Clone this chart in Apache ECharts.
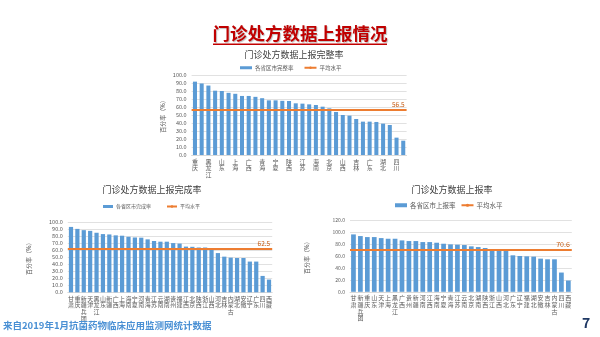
<!DOCTYPE html>
<html><head><meta charset="utf-8">
<script src="https://cdn.jsdelivr.net/npm/echarts@6/dist/echarts.min.js"></script>
<style>html,body{margin:0;padding:0;background:#fff}#c{width:600px;height:337px}</style>
</head><body><div id="c"></div>
<script>
// ---- data ----
const topCats = ['重庆','甘肃','黑龙江','新疆兵团','山东','天津','上海','新疆','广西','贵州','青海','河南','宁夏','云南','陕西','福建','江苏','江西','海南','浙江','北京','河北','山西','湖南','吉林','内蒙古','广东','安徽','湖北','辽宁','四川','西藏'];
const topValues = [91.7,89.4,86.8,80.4,80.0,77.7,76.5,73.8,73.8,72.7,71.0,68.3,68.3,67.7,67.5,64.6,64.2,63.3,62.5,60.4,58.3,53.8,50.0,49.2,45.0,41.7,41.7,41.3,39.2,37.5,21.7,17.9];
const topAvg = 56.5;

const leftCats = ['甘肃','重庆','新疆兵团','天津','黑龙江','山东','新疆','广西','上海','海南','宁夏','河南','青海','江苏','云南','湖南','贵州','福建','江西','北京','陕西','浙江','山西','河北','吉林','内蒙古','湖北','安徽','辽宁','广东','四川','西藏'];
const leftValues = [93.0,90.2,88.4,87.4,84.7,82.8,82.3,81.0,80.5,79.0,78.0,77.7,75.3,73.0,72.0,72.0,70.0,69.3,65.0,64.7,63.7,63.7,61.4,55.8,50.7,49.3,48.8,48.8,43.7,43.7,23.3,18.1];
const leftAvg = 62.5;

const rightCats = ['甘肃','新疆兵团','重庆','山东','天津','上海','黑龙江','广西','贵州','新疆','河南','江西','海南','宁夏','青海','江苏','云南','北京','湖南','陕西','浙江','山西','河北','广东','辽宁','福建','湖北','安徽','吉林','内蒙古','四川','西藏'];
const rightValues = [96.6,93.8,92.1,92.1,90.4,89.3,89.3,86.5,85.4,85.4,83.7,83.7,82.6,80.9,79.8,79.3,78.7,76.5,75.3,73.7,69.8,69.8,68.7,61.4,60.3,59.7,59.2,55.8,54.7,54.7,32.4,19.0];
const rightAvg = 70.6;

const topSeriesName = '各省区市完整率';
const leftSeriesName = '各省区市完成率';
const rightSeriesName = '各省区市上报率';
const avgName = '平均水平';

// ---- styling ----
const FONT = '"Noto Sans CJK SC", "Noto Sans", sans-serif';
const BLUE = '#5B9BD5', ORANGE = '#ED7D31', GRID = '#D9D9D9', TXT = '#595959';
const vert = s => s.split('').join('\n');

function xAxis(cats, gi, interval) {
  return {type:'category', gridIndex:gi, data:cats,
    axisLine:{lineStyle:{color:GRID}}, axisTick:{show:false},
    axisLabel:{interval:interval, formatter:vert, fontSize:6, lineHeight:6.6, color:TXT, fontFamily:FONT, margin:3}};
}
function yAxis(gi, max, step, gap, fs) {
  return {type:'value', gridIndex:gi, min:0, max:max, interval:step,
    name:'百分率（%）', nameLocation:'middle', nameGap:gap,
    nameTextStyle:{fontSize:6, color:TXT, fontFamily:FONT},
    axisLine:{show:false}, axisTick:{show:false},
    splitLine:{lineStyle:{color:GRID, width:0.8}},
    axisLabel:{formatter:v=>v.toFixed(1), fontSize:fs, color:TXT, fontFamily:FONT, margin:5}};
}
function bar(name, vals, gi, w) {
  return {type:'bar', name:name, xAxisIndex:gi, yAxisIndex:gi, data:vals, barWidth:w,
    itemStyle:{color:BLUE}, silent:true};
}
function avg(v, gi, fs) {
  return {type:'line', name:avgName, xAxisIndex:gi, yAxisIndex:gi, data:[], symbol:'none',
    lineStyle:{color:ORANGE, width:2}, itemStyle:{color:ORANGE},
    markLine:{silent:true, symbol:'none', animation:false,
      lineStyle:{color:ORANGE, width:2, type:'solid'},
      label:{position:'insideEndTop', formatter:p=>p.value.toFixed(1), color:'#C55A11', fontSize:fs, fontFamily:FONT, distance:2},
      data:[{yAxis:v}]}};
}
function legend(first, left, top, iw, ih, gap, fs) {
  return {data:[{name:first, icon:'rect'}, avgName], left:left, top:top, itemWidth:iw, itemHeight:ih,
    itemGap:gap, padding:0, selectedMode:false, textStyle:{fontSize:fs, color:TXT, fontFamily:FONT, padding:[0,0,0,-2]}};
}

const chart = echarts.init(document.getElementById('c'));
chart.setOption({
  animation:false,
  backgroundColor:'#fff',
  textStyle:{fontFamily:FONT},
  title:[
    {text:'门诊处方数据上报情况', left:300, textAlign:'center', top:25, padding:0,
      textStyle:{fontSize:17.5, fontWeight:'bold', color:'#C00000', fontFamily:FONT,
        textShadowColor:'rgba(0,0,0,0.25)', textShadowOffsetX:1, textShadowOffsetY:1, textShadowBlur:1}},
    {text:'门诊处方数据上报完整率', left:294, textAlign:'center', top:50, padding:0,
      textStyle:{fontSize:9, fontWeight:'normal', color:'#404040', fontFamily:FONT}},
    {text:'门诊处方数据上报完成率', left:152, textAlign:'center', top:185, padding:0,
      textStyle:{fontSize:9, fontWeight:'normal', color:'#404040', fontFamily:FONT}},
    {text:'门诊处方数据上报率', left:452, textAlign:'center', top:185, padding:0,
      textStyle:{fontSize:9, fontWeight:'normal', color:'#404040', fontFamily:FONT}},
    {text:'来自2019年1月抗菌药物临床应用监测网统计数据', left:3, top:321, padding:0,
      textStyle:{fontSize:9.5, fontWeight:'bold', color:'#4A90D4', fontFamily:FONT}},
    {text:'7', left:582, top:316, padding:0,
      textStyle:{fontSize:14, fontWeight:'bold', color:'#1F3864', fontFamily:FONT}}
  ],
  graphic:[{type:'rect', shape:{x:213, y:43.5, width:174, height:1.5}, style:{fill:'#C00000'}, silent:true}],
  legend:[
    legend(topSeriesName, 240, 65, 12, 3, 10, 5.5),
    legend(leftSeriesName, 103, 204, 10, 3, 15, 5),
    legend(rightSeriesName, 395, 202, 12, 4, 5, 6.5)
  ],
  grid:[
    {left:191.6, top:75, width:215, height:80},
    {left:67.8, top:222, width:204.4, height:70.3},
    {left:350, top:220.5, width:221.8, height:71.3}
  ],
  xAxis:[xAxis(topCats,0,1), xAxis(leftCats,1,0), xAxis(rightCats,2,0)],
  yAxis:[yAxis(0,100,10,26,5.5), yAxis(1,100,10,36,5.5), yAxis(2,120,20,40,5)],
  series:[
    bar(topSeriesName, topValues, 0, '60%'), avg(topAvg, 0, 6.5),
    bar(leftSeriesName, leftValues, 1, '66%'), avg(leftAvg, 1, 6.5),
    bar(rightSeriesName, rightValues, 2, '68%'), avg(rightAvg, 2, 7)
  ]
});
</script></body></html>
